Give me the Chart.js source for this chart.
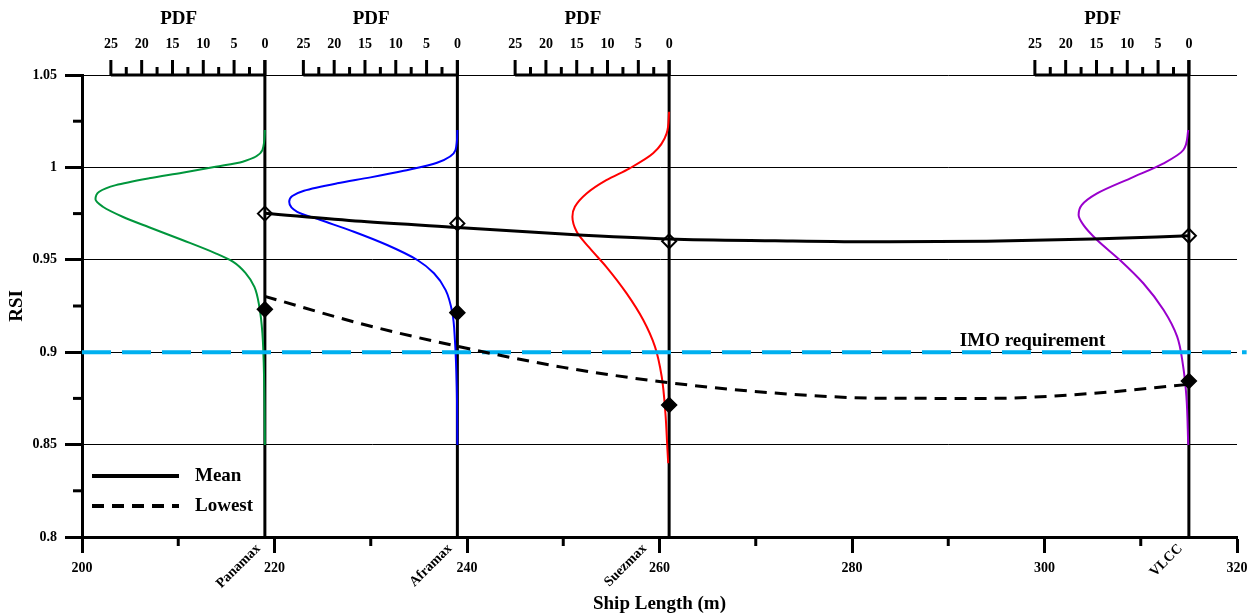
<!DOCTYPE html>
<html>
<head>
<meta charset="utf-8">
<title>RSI vs ship length</title>
<script src="https://cdn.jsdelivr.net/npm/chart.js@4.4.1/dist/chart.umd.min.js"></script>
<style>
  html, body { margin: 0; padding: 0; background: #fff; }
  #wrap { width: 1257px; height: 616px; }
</style>
</head>
<body>
<div id="wrap"><canvas id="rsi-chart" width="1257" height="616"></canvas></div>
<script>
// Tanker classes and their lengths (m)
const shipClasses = ['Panamax', 'Aframax', 'Suezmax', 'VLCC'];
const shipLengths = [219, 239, 261, 315];

// RSI per class
const meanRsi = [0.9750, 0.9697, 0.9600, 0.9630];
const lowestRsi = [0.9232, 0.9214, 0.8714, 0.8844];

// Trend curves along ship length
const trendLengths = [219, 229, 239, 250, 261, 272, 283, 294, 305, 315];
const meanTrend = [0.9752, 0.9708, 0.9675, 0.9640, 0.9613, 0.9603, 0.9597, 0.9600, 0.9612, 0.9630];
const lowestTrend = [0.9302, 0.9154, 0.9032, 0.8918, 0.8835, 0.8779, 0.8751, 0.8750, 0.8777, 0.8826];

const imoRequirement = 0.9;
const imoSpan = [200, 321];

// PDF of RSI for each class: RSI levels and density
const panamaxRsi = [1.0202, 1.0094, 1.0031, 1.0003, 0.9971, 0.9941, 0.9904, 0.9868, 0.9827, 0.9787, 0.9733,
                    0.9676, 0.9607, 0.9535, 0.9490, 0.9427, 0.9354, 0.9246, 0.9102, 0.8813, 0.8498];
const panamaxPdf = [0, 0.4, 3.6, 8.0, 13.4, 18.8, 24.2, 26.9, 27.5, 26.3, 23.1,
                    18.8, 13.4, 8.0, 5.2, 3.1, 1.7, 0.9, 0.4, 0.1, 0];

const aframaxRsi = [1.0202, 1.0094, 1.0025, 0.9982, 0.9946, 0.9914, 0.9874, 0.9845, 0.9814, 0.9760, 0.9715,
                    0.9652, 0.9580, 0.9499, 0.9427, 0.9336, 0.9210, 0.9066, 0.8813, 0.8498];
const aframaxPdf = [0, 0.3, 3.3, 8.7, 14.1, 19.5, 24.9, 26.8, 27.3, 26.0, 22.2,
                    16.8, 11.4, 6.5, 3.8, 1.9, 0.8, 0.4, 0.1, 0];

const suezmaxRsi = [1.0301, 1.0184, 1.0076, 0.9995, 0.9931, 0.9859, 0.9787, 0.9733, 0.9652,
                    0.9571, 0.9462, 0.9318, 0.9174, 0.9030, 0.8867, 0.8669, 0.8489, 0.8399];
const suezmaxPdf = [0, 0.4, 2.6, 6.4, 10.2, 13.4, 15.3, 15.7, 15.0,
                    13.1, 10.2, 6.9, 4.2, 2.3, 1.2, 0.6, 0.3, 0.15];

const vlccRsi = [1.0202, 1.0094, 1.0022, 0.9941, 0.9859, 0.9796, 0.9742, 0.9688,
                 0.9607, 0.9499, 0.9373, 0.9228, 0.9084, 0.8940, 0.8759, 0.8498];
const vlccPdf = [0.1, 0.9, 4.1, 9.5, 14.9, 17.4, 17.9, 17.1,
                 14.9, 11.2, 7.4, 4.1, 1.9, 1.0, 0.4, 0.1];

// PDF axis: 0..25 drawn leftwards from each class line
const pdfTickValues = [0, 5, 10, 15, 20, 25];
const pdfMax = 25;
const pdfWidth = 16;        // metres of ship length spanned by the PDF axis
const pdfColors = ['#00963c', '#0000ff', '#ff0000', '#9900cc'];

const serif = '"Liberation Serif", "Times New Roman", serif';
const bold = size => `bold ${size}px ${serif}`;
const toX = (len, pdf) => len - pdf * pdfWidth / pdfMax;
const isMajorY = v => Math.abs(v * 20 - Math.round(v * 20)) < 1e-6;
const isMajorX = v => Math.abs(v % 20) < 1e-6;
const clear = 'rgba(0,0,0,0)';

const pdfCurves = [
  [panamaxRsi, panamaxPdf],
  [aframaxRsi, aframaxPdf],
  [suezmaxRsi, suezmaxPdf],
  [vlccRsi, vlccPdf]
];

const datasets = [
  {
    label: 'Mean points',
    data: shipLengths.map((x, i) => ({ x, y: meanRsi[i] })),
    showLine: false,
    pointStyle: 'rectRot',
    pointRadius: 7,
    pointBorderWidth: 2,
    pointBorderColor: '#000',
    pointBackgroundColor: clear,
    order: 0
  },
  {
    label: 'Lowest points',
    data: shipLengths.map((x, i) => ({ x, y: lowestRsi[i] })),
    showLine: false,
    pointStyle: 'rectRot',
    pointRadius: 7.5,
    pointBorderWidth: 1.5,
    pointBorderColor: '#000',
    pointBackgroundColor: '#000',
    order: 0
  },
  {
    label: 'Mean',
    inLegend: true,
    data: trendLengths.map((x, i) => ({ x, y: meanTrend[i] })),
    borderColor: '#000',
    borderWidth: 3,
    pointRadius: 0,
    cubicInterpolationMode: 'monotone',
    order: 1
  },
  {
    label: 'Lowest',
    inLegend: true,
    data: trendLengths.map((x, i) => ({ x, y: lowestTrend[i] })),
    borderColor: '#000',
    borderWidth: 3,
    borderDash: [12, 8],
    pointRadius: 0,
    cubicInterpolationMode: 'monotone',
    order: 1
  },
  {
    label: 'IMO requirement',
    data: imoSpan.map(x => ({ x, y: imoRequirement })),
    borderColor: '#00b0f0',
    borderWidth: 4,
    borderDash: [29, 11],
    pointRadius: 0,
    clip: false,
    order: 2
  }
];

// PDF curves run along the RSI axis, so smooth them along y
pdfCurves.forEach(([rsi, pdf], i) => {
  datasets.push({
    label: shipClasses[i] + ' PDF',
    indexAxis: 'y',
    data: rsi.map((r, k) => ({ x: toX(shipLengths[i], pdf[k]), y: r })),
    borderColor: pdfColors[i],
    borderWidth: 2,
    pointRadius: 0,
    cubicInterpolationMode: 'monotone',
    order: 3
  });
});

// Class lines, PDF axes, minor ticks, class names, legend and IMO label
const decorations = {
  id: 'decorations',
  beforeDatasetsDraw(chart) {
    const { ctx, chartArea: area, scales: { x } } = chart;
    ctx.save();
    ctx.strokeStyle = '#000';
    ctx.fillStyle = '#000';
    ctx.lineWidth = 3;
    shipLengths.forEach(len => {
      const x0 = x.getPixelForValue(len);
      ctx.beginPath();
      ctx.moveTo(x0, area.top - 15);
      ctx.lineTo(x0, area.bottom);
      ctx.stroke();

      const xEnd = x.getPixelForValue(toX(len, pdfMax));
      ctx.beginPath();
      ctx.moveTo(xEnd, area.top);
      ctx.lineTo(x0, area.top);
      ctx.stroke();

      ctx.font = bold(14);
      ctx.textAlign = 'center';
      ctx.textBaseline = 'middle';
      pdfTickValues.forEach(v => {
        const px = x.getPixelForValue(toX(len, v));
        ctx.beginPath();
        ctx.moveTo(px, area.top);
        ctx.lineTo(px, area.top - 15);
        ctx.stroke();
        ctx.fillText(String(v), px, area.top - 30.5);
        if (v < pdfMax) {
          const pm = x.getPixelForValue(toX(len, v + 2.5));
          ctx.beginPath();
          ctx.moveTo(pm, area.top);
          ctx.lineTo(pm, area.top - 8);
          ctx.stroke();
        }
      });
      ctx.font = bold(19);
      ctx.fillText('PDF', x.getPixelForValue(toX(len, 14)), area.top - 56);
    });
    ctx.restore();
  },
  afterDraw(chart) {
    const { ctx, chartArea: area, scales: { x, y } } = chart;
    ctx.save();
    ctx.strokeStyle = '#000';
    ctx.fillStyle = '#000';
    ctx.lineWidth = 3;

    // minor ticks
    y.ticks.forEach(t => {
      if (isMajorY(t.value)) return;
      const py = y.getPixelForValue(t.value);
      ctx.beginPath();
      ctx.moveTo(area.left - 9, py);
      ctx.lineTo(area.left, py);
      ctx.stroke();
    });
    x.ticks.forEach(t => {
      if (isMajorX(t.value)) return;
      const px = x.getPixelForValue(t.value);
      ctx.beginPath();
      ctx.moveTo(px, area.bottom);
      ctx.lineTo(px, area.bottom + 9);
      ctx.stroke();
    });

    // class names under the axis, slanted
    const labelShift = [4, 5, 22, 6];
    ctx.font = bold(14);
    ctx.textAlign = 'right';
    ctx.textBaseline = 'alphabetic';
    shipClasses.forEach((name, i) => {
      const px = x.getPixelForValue(shipLengths[i]) - labelShift[i];
      ctx.save();
      ctx.translate(px, area.bottom + 12);
      ctx.rotate(-Math.PI / 4);
      ctx.fillText(name, 0, 0);
      ctx.restore();
    });

    // IMO label
    ctx.font = bold(19);
    ctx.textAlign = 'left';
    ctx.fillText('IMO requirement', x.getPixelForValue(291.2), y.getPixelForValue(imoRequirement) - 6);

    // legend
    const items = chart.data.datasets.filter(d => d.inLegend);
    ctx.textBaseline = 'middle';
    items.forEach((d, i) => {
      const ly = area.bottom - 61 + i * 30;
      ctx.lineWidth = 4;
      ctx.setLineDash(d.borderDash || []);
      ctx.beginPath();
      ctx.moveTo(area.left + 10, ly);
      ctx.lineTo(area.left + 97, ly);
      ctx.stroke();
      ctx.setLineDash([]);
      ctx.fillText(d.label, area.left + 113, ly);
    });
    ctx.restore();
  }
};

new Chart(document.getElementById('rsi-chart'), {
  type: 'line',
  data: { datasets },
  options: {
    responsive: false,
    animation: false,
    events: [],
    layout: { padding: { top: 75, right: 20, left: 0, bottom: 0 } },
    plugins: {
      legend: { display: false },
      tooltip: { enabled: false }
    },
    scales: {
      x: {
        type: 'linear',
        min: 200,
        max: 320,
        afterFit: s => { s.height = 79; },
        border: { color: '#000', width: 3 },
        grid: {
          drawOnChartArea: false,
          tickLength: 16,
          tickWidth: 3,
          tickColor: c => isMajorX(c.tick.value) ? '#000' : clear
        },
        ticks: {
          stepSize: 10,
          autoSkip: false,
          maxRotation: 0,
          padding: 7,
          color: '#000',
          font: { family: serif, weight: 'bold', size: 14 },
          callback: v => isMajorX(v) ? String(v) : ''
        },
        title: {
          display: true,
          text: 'Ship Length (m)',
          color: '#000',
          font: { family: serif, weight: 'bold', size: 19 },
          padding: { top: 0, bottom: 1 }
        }
      },
      y: {
        type: 'linear',
        min: 0.8,
        max: 1.05,
        afterFit: s => { s.width = 82; },
        border: { color: '#000', width: 3 },
        grid: {
          color: c => isMajorY(c.tick.value) ? '#000' : clear,
          lineWidth: 1,
          tickLength: 17,
          tickWidth: 3,
          tickColor: c => isMajorY(c.tick.value) ? '#000' : clear
        },
        ticks: {
          stepSize: 0.025,
          autoSkip: false,
          padding: 8,
          color: '#000',
          font: { family: serif, weight: 'bold', size: 14 },
          callback: v => isMajorY(v) ? String(Math.round(v * 100) / 100) : ''
        },
        title: {
          display: true,
          text: 'RSI',
          color: '#000',
          font: { family: serif, weight: 'bold', size: 19 },
          padding: { top: 6, bottom: 0 }
        }
      }
    }
  },
  plugins: [decorations]
});
</script>
</body>
</html>
